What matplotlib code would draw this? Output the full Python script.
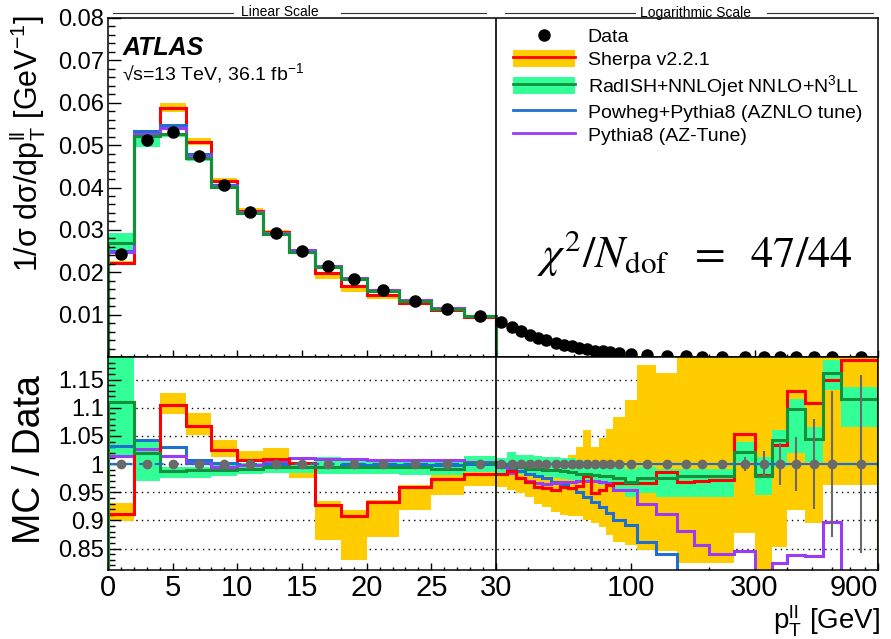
import matplotlib as mpl
mpl.use('Agg')
import matplotlib.pyplot as plt
from matplotlib.lines import Line2D
from matplotlib.patches import Patch
import numpy as np

plt.rcParams['font.family'] = ['Liberation Sans', 'DejaVu Sans']
plt.rcParams['mathtext.fontset'] = 'custom'
plt.rcParams['mathtext.rm'] = 'Liberation Sans'
plt.rcParams['mathtext.it'] = 'Liberation Sans:italic'
plt.rcParams['mathtext.bf'] = 'Liberation Sans:bold'

# pT(ll) bin edges [GeV]
edges = np.array([0, 2, 4, 6, 8, 10, 12, 14, 16, 18, 20, 22.5, 25, 27.5, 30,
                  33, 36, 39, 42, 45, 49, 53, 57, 61, 65, 70, 75, 80, 85,
                  95, 105, 125, 150, 175, 200, 250, 300, 350, 400, 470, 550, 650, 900])
n_lin = 14  # bins below 30 GeV

# normalised data, 1/sigma dsigma/dpT [1/GeV]
data = np.array([0.0243, 0.0512, 0.0532, 0.0475, 0.0406, 0.0343, 0.0292, 0.0249, 0.0214, 0.0185,
                 0.0157, 0.0133, 0.0114, 0.0097,
                 0.0083, 0.0071, 0.0061, 0.0053, 0.0046, 0.0040, 0.0034, 0.0029, 0.0025, 0.0021,
                 0.0018, 0.0015, 0.0013, 0.0011, 0.00087, 0.00066, 0.00045, 0.00026, 0.00015, 0.000095,
                 0.000052, 0.000025, 0.000013, 0.0000075, 0.0000040, 0.0000019, 0.0000008, 0.00000022])
# relative data uncertainty
data_err = np.array([0.002, 0.002, 0.002, 0.002, 0.002, 0.002, 0.002, 0.002, 0.002, 0.002,
                     0.002, 0.002, 0.002, 0.002,
                     0.002, 0.002, 0.002, 0.002, 0.002, 0.002, 0.002, 0.002, 0.002, 0.002,
                     0.002, 0.002, 0.002, 0.002, 0.003, 0.003, 0.004, 0.005, 0.005, 0.006,
                     0.008, 0.013, 0.023, 0.038, 0.048, 0.080, 0.130, 0.158])

# MC / data
sherpa = np.array([0.912, 1.019, 1.105, 1.067, 1.025, 1.007, 1.009, 1.002, 0.927, 0.908,
                   0.932, 0.960, 0.973, 0.982,
                   0.982, 0.988, 0.975, 0.969, 0.960, 0.957, 0.954, 0.959, 0.957, 0.961,
                   0.978, 0.948, 0.954, 0.963, 0.967, 0.967, 0.967, 0.986, 0.969, 0.970,
                   0.972, 1.054, 0.980, 1.034, 1.130, 1.109, 1.149, 1.184])
sherpa_lo = np.array([0.8995, 1.013, 1.088, 1.051, 1.012, 1.004, 1.007, 0.976, 0.865, 0.829,
                      0.870, 0.918, 0.945, 0.961,
                      0.960, 0.954, 0.948, 0.942, 0.930, 0.924, 0.915, 0.910, 0.907, 0.907,
                      0.901, 0.895, 0.889, 0.874, 0.862, 0.856, 0.848, 0.845, 0.824, 0.824,
                      0.824, 0.877, 0.780, 0.853, 0.918, 0.895, 0.963, 0.963])
sherpa_hi = np.array([0.931, 1.025, 1.1265, 1.090, 1.043, 1.023, 1.029, 1.001, 0.935, 0.918,
                      0.936, 0.963, 0.980, 0.989,
                      0.994, 0.995, 0.996, 0.998, 1.001, 1.002, 1.004, 1.010, 1.016, 1.031,
                      1.060, 1.031, 1.046, 1.063, 1.084, 1.113, 1.176, 1.161, 1.25, 1.25,
                      1.25, 1.25, 1.25, 1.25, 1.25, 1.25, 1.25, 1.25])

radish = np.array([1.110, 1.020, 0.988, 0.989, 0.989, 0.992, 0.995, 0.994, 0.995, 0.995,
                   0.995, 0.995, 0.991, 1.001,
                   0.998, 0.998, 0.994, 0.992, 0.991, 0.989, 0.989, 0.988, 0.986, 0.983,
                   0.982, 0.980, 0.979, 0.978, 0.975, 0.969, 0.975, 0.976, 0.978, 0.979,
                   0.978, 1.022, 0.979, 1.043, 1.097, 1.044, 1.161, 1.115])
radish_lo = np.array([1.012, 0.970, 0.976, 0.976, 0.979, 0.982, 0.985, 0.985, 0.983, 0.982,
                      0.982, 0.980, 0.980, 0.986,
                      0.983, 0.985, 0.982, 0.980, 0.979, 0.978, 0.975, 0.973, 0.972, 0.969,
                      0.967, 0.966, 0.963, 0.960, 0.954, 0.942, 0.948, 0.942, 0.942, 0.942,
                      0.942, 1.004, 0.945, 0.995, 1.019, 1.004, 1.131, 1.066])
radish_hi = np.array([1.200, 1.040, 0.995, 0.995, 0.998, 1.001, 1.004, 1.001, 1.012, 1.010,
                      1.007, 1.007, 1.007, 1.014,
                      1.010, 1.022, 1.016, 1.016, 1.014, 1.013, 1.012, 1.010, 1.010, 1.007,
                      1.007, 1.004, 1.001, 0.998, 0.998, 0.992, 0.995, 0.992, 0.992, 0.992,
                      0.992, 1.040, 1.013, 1.060, 1.115, 1.066, 1.184, 1.137])

powheg = np.array([1.032, 1.043, 1.031, 1.008, 1.001, 0.998, 0.998, 0.994, 0.994, 0.998,
                   0.998, 0.998, 0.998, 1.000,
                   0.998, 0.992, 0.988, 0.983, 0.979, 0.975, 0.969, 0.963, 0.957, 0.951,
                   0.942, 0.933, 0.924, 0.913, 0.901, 0.892, 0.862, 0.840, 0.790, 0.770,
                   0.750, 0.730, 0.710, 0.690, 0.670, 0.650, 0.630, 0.600])

pythia = np.array([1.015, 1.026, 1.015, 1.001, 0.994, 0.998, 1.004, 1.010, 1.009, 1.009,
                   1.008, 1.008, 1.007, 1.004,
                   0.995, 0.985, 0.976, 0.970, 0.967, 0.965, 0.966, 0.968, 0.969, 0.970,
                   0.970, 0.970, 0.969, 0.967, 0.954, 0.954, 0.930, 0.911, 0.882, 0.856,
                   0.840, 0.845, 0.790, 0.824, 0.839, 0.836, 0.898, 0.780])

labels = ['Data', 'Sherpa v2.2.1', r'RadISH+NNLOjet NNLO+N$^{\mathrm{3}}$LL',
          'Powheg+Pythia8 (AZNLO tune)', 'Pythia8 (AZ-Tune)']
xticks = [0, 5, 10, 15, 20, 25, 30, 100, 300, 900]
xticklabels = ['0', '5', '10', '15', '20', '25', '30', '100', '300', '900']

c_orange, c_red = '#ffcc00', '#ff0000'
c_mint, c_green = '#33ff99', '#13913a'
c_blue, c_purple = '#1f6fd1', '#9b3cf5'

centers = 0.5 * (edges[:-1] + edges[1:])

# linear below 30 GeV, logarithmic above
K = 20.0
def fwd(x):
    x = np.asarray(x, float)
    return np.where(x <= 30, x, 30 + K * np.log10(np.maximum(x, 30) / 30))
def inv(u):
    u = np.asarray(u, float)
    return np.where(u <= 30, u, 30 * 10 ** ((np.maximum(u, 30) - 30) / K))

W, H = 891, 639
fig = plt.figure(figsize=(W / 100, H / 100), dpi=100)
ax = fig.add_axes([108 / W, 1 - 357 / H, 770 / W, 339 / H])
rx = fig.add_axes([108 / W, 1 - 570 / H, 770 / W, 213 / H])

for a in (ax, rx):
    a.set_xscale('function', functions=(fwd, inv))
    a.set_xlim(0, 900)
    a.set_xticks(xticks)
    a.set_xticks([v for v in range(1, 30) if v % 5] +
                 [40, 50, 60, 70, 80, 90, 200, 400, 500, 600, 700, 800], minor=True)
    a.tick_params(axis='x', which='major', direction='in', length=4.8, width=1.0)
    a.tick_params(axis='x', which='minor', direction='in', length=2.4, width=1.0)
    a.tick_params(axis='y', which='major', direction='in', length=9.4, width=1.0, labelsize=17, pad=3)
    a.tick_params(axis='y', which='minor', direction='in', length=4.7, width=1.0)
    for s in a.spines.values():
        s.set_linewidth(1.1)

# upper panel
sl = slice(0, n_lin)
e_lin = edges[:n_lin + 1]
d = data[sl]
ax.stairs(sherpa_hi[sl] * d, e_lin, baseline=sherpa_lo[sl] * d, fill=True, color=c_orange, lw=0)
ax.stairs(radish_hi[sl] * d, e_lin, baseline=radish_lo[sl] * d, fill=True, color=c_mint, lw=0)
ax.stairs(sherpa[sl] * d, e_lin, baseline=0, color=c_red, lw=2.2)
ax.stairs(powheg[sl] * d, e_lin, baseline=0, color=c_blue, lw=2.2)
ax.stairs(pythia[sl] * d, e_lin, baseline=0, color=c_purple, lw=2.2)
ax.stairs(radish[sl] * d, e_lin, baseline=0, color=c_green, lw=2.2)
ax.plot(centers, data, 'o', color='k', ms=8, zorder=5)
ax.axvline(30, color='k', lw=1.2, zorder=6)
ax.set_ylim(0, 0.08)
ax.set_yticks([0.01, 0.02, 0.03, 0.04, 0.05, 0.06, 0.07, 0.08])
ax.set_yticklabels(['0.01', '0.02', '0.03', '0.04', '0.05', '0.06', '0.07', '0.08'])
ax.set_yticks(np.arange(0.002, 0.08, 0.002), minor=True)
ax.tick_params(labelbottom=False)

handles = [Line2D([], [], marker='o', color='k', ls='none', ms=8),
           (Patch(fc=c_orange, ec='none'), Line2D([], [], color=c_red, lw=2)),
           (Patch(fc=c_mint, ec='none'), Line2D([], [], color=c_green, lw=2)),
           Line2D([], [], color=c_blue, lw=2),
           Line2D([], [], color=c_purple, lw=2)]
ax.legend(handles, labels, loc='upper left', bbox_to_anchor=(513 / W, 1 - 27 / H),
          bbox_transform=fig.transFigure, frameon=False, fontsize=14,
          handlelength=3.2, handleheight=0.95, handletextpad=0.65,
          labelspacing=0.2, borderpad=0, borderaxespad=0)

fig.text(123 / W, 1 - 55 / H, 'ATLAS', fontsize=18, fontweight='bold', fontstyle='italic')
fig.text(122 / W, 1 - 80 / H, r'√s=13 TeV, 36.1 fb$^{\mathrm{-1}}$', fontsize=14)
ax.text(0.557, 0.265, r'$\chi^2/N_{\mathrm{dof}}\;\ =\;\ 47/44$', transform=ax.transAxes,
        fontsize=32, math_fontfamily='stix', va='baseline')

# lower panel
rx.set_ylim(0.812, 1.19)
grid = [0.85, 0.9, 0.95, 1.0, 1.05, 1.1, 1.15]
for g in grid:
    rx.axhline(g, color='k', lw=1.0, ls=(0, (1, 3)), zorder=0)
rx.stairs(sherpa_hi, edges, baseline=sherpa_lo, fill=True, color=c_orange, lw=0, zorder=1)
rx.stairs(radish_hi, edges, baseline=radish_lo, fill=True, color=c_mint, lw=0, zorder=1.1)
rx.stairs(powheg, edges, color=c_blue, lw=2.2, zorder=2)
rx.stairs(pythia, edges, color=c_purple, lw=2.2, zorder=2.1)
rx.stairs(sherpa, edges, color=c_red, lw=2.2, zorder=2.2)
rx.stairs(radish, edges, color=c_green, lw=2.2, zorder=2.3)
rx.hlines(1, 0, 30, color=c_blue, lw=1.6, ls=(0, (4, 3)), zorder=2.5)
rx.hlines(1, 30, 900, color=c_blue, lw=1.6, zorder=2.5)
rx.errorbar(centers, np.ones_like(centers), yerr=data_err, fmt='o', color='#6a6a6a',
            ms=6, elinewidth=1.5, capsize=0, zorder=3)
rx.axvline(30, color='k', lw=1.2, zorder=4)
rx.set_yticks(grid)
rx.set_yticklabels(['0.85', '0.9', '0.95', '1', '1.05', '1.1', '1.15'])
rx.set_yticks(np.arange(0.82, 1.19, 0.01), minor=True)
rx.set_xticklabels(xticklabels)
rx.tick_params(axis='x', labelsize=21, pad=3)
rx.get_xticklabels()[-1].set_horizontalalignment('right')

fig.text(28 / W, 1 - 15 / H, r'1/σ dσ/dp$_{\mathrm{T}}^{\mathrm{ll}}$ [GeV$^{\mathrm{-1}}$]',
         rotation=90, ha='center', va='top', fontsize=22)
fig.text(30 / W, 1 - 460 / H, 'MC / Data', rotation=90, ha='center', va='center', fontsize=27)
fig.text(880 / W, 1 - 629 / H, r'p$_{\mathrm{T}}^{\mathrm{ll}}$ [GeV]', ha='right', va='baseline',
         fontsize=20)

# scale captions above the frame
fig.text(280 / W, 1 - 12.5 / H, 'Linear Scale', ha='center', va='center', fontsize=10)
fig.text(696 / W, 1 - 12.5 / H, 'Logarithmic Scale', ha='center', va='center', fontsize=10)
for x0, x1 in [(113, 233), (341, 486), (505, 635), (767, 873)]:
    fig.add_artist(Line2D([x0 / W, x1 / W], [1 - 13 / H, 1 - 13 / H], color='#333333',
                          lw=0.8, transform=fig.transFigure))

fig.savefig('out.png', dpi=100)
